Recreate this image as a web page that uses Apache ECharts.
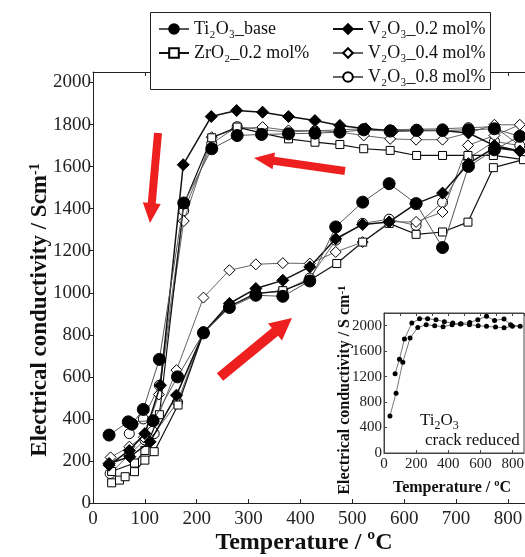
<!DOCTYPE html>
<html>
<head>
<meta charset="utf-8">
<script src="https://cdn.jsdelivr.net/npm/echarts@6/dist/echarts.min.js"></script>
<style>
  html, body { margin: 0; padding: 0; background: #fff; }
  #chart { width: 525px; height: 557px; }
</style>
</head>
<body>
<div id="chart"></div>
<script>
// each run is heating (up to ~820 ºC) followed by cooling, in measurement order
const tiTemp = [31, 68, 116, 163, 213, 263, 314, 366, 418, 468, 520, 571, 623, 674, 724, 774, 823, 774, 724, 674, 624, 573, 522, 476, 428, 377, 325, 278, 229, 175, 128, 97, 75]
const tiCond = [323, 386, 391, 600, 809, 930, 988, 983, 1056, 1313, 1431, 1519, 1424, 1215, 1601, 1680, 1744, 1780, 1775, 1772, 1772, 1769, 1775, 1764, 1759, 1756, 1753, 1748, 1685, 1427, 683, 445, 375]

const zrTemp = [36, 51, 62, 80, 100, 118, 164, 213, 263, 314, 366, 418, 470, 520, 571, 623, 674, 723, 772, 830, 772, 723, 674, 624, 573, 522, 476, 428, 377, 326, 278, 229, 175, 128, 100, 80, 36]
const zrCond = [96, 109, 125, 149, 204, 244, 466, 810, 935, 995, 1010, 1060, 1139, 1241, 1330, 1278, 1289, 1336, 1595, 1633, 1653, 1653, 1653, 1653, 1677, 1685, 1705, 1716, 1732, 1759, 1788, 1737, 1420, 420, 250, 190, 150]

const v2Temp = [31, 71, 110, 161, 213, 263, 314, 366, 418, 468, 520, 571, 623, 674, 724, 774, 823, 774, 724, 674, 627, 578, 526, 476, 428, 377, 327, 277, 228, 174, 130, 100, 70, 31]
const v2Cond = [188, 220, 291, 513, 809, 949, 1020, 1059, 1123, 1257, 1325, 1337, 1424, 1474, 1614, 1690, 1674, 1700, 1760, 1772, 1772, 1769, 1780, 1796, 1819, 1838, 1859, 1867, 1838, 1609, 560, 330, 250, 180]

const v4Temp = [34, 70, 115, 161, 213, 263, 314, 366, 418, 468, 520, 571, 623, 674, 723, 774, 823, 774, 724, 674, 623, 573, 522, 476, 428, 377, 327, 278, 229, 175, 127, 98]
const v4Cond = [217, 268, 347, 632, 977, 1107, 1135, 1141, 1139, 1194, 1241, 1337, 1337, 1384, 1701, 1748, 1799, 1799, 1760, 1728, 1728, 1732, 1748, 1764, 1772, 1772, 1788, 1780, 1740, 1341, 516, 312]

const v8Temp = [33, 70, 100, 118, 163, 213, 263, 314, 366, 418, 468, 520, 571, 623, 674, 724, 774, 823, 774, 724, 674, 624, 573, 522, 476, 428, 377, 327, 278, 229, 175, 128, 97, 70]
const v8Cond = [140, 230, 300, 330, 480, 815, 935, 1000, 1005, 1070, 1250, 1330, 1350, 1320, 1430, 1640, 1720, 1700, 1790, 1785, 1780, 1778, 1775, 1780, 1775, 1770, 1765, 1775, 1790, 1710, 1390, 560, 400, 330]

// inset: Ti2O3 crack reduced
const insetTemp = [37, 75, 117, 162, 210, 262, 315, 367, 423, 475, 531, 585, 637, 693, 746, 798, 846, 787, 746, 687, 637, 583, 533, 479, 427, 375, 323, 271, 221, 173, 127, 96, 69]
const insetCond = [583, 940, 1428, 1806, 1973, 2016, 2000, 1984, 2016, 2026, 2016, 2000, 1990, 1979, 1968, 1990, 1990, 2016, 2105, 2084, 2147, 2094, 2052, 2031, 2042, 2063, 2094, 2110, 2110, 2042, 1790, 1475, 1244]

const names = ['Ti₂O₃_base', 'ZrO₂_0.2 mol%', 'V₂O₃_0.2 mol%', 'V₂O₃_0.4 mol%', 'V₂O₃_0.8 mol%']

const serif = "'Liberation Serif', 'DejaVu Serif', serif"
const zip = (a, b) => a.map((v, i) => [v, b[i]])
const plain = v => String(v)

// red arrow outline from tail to tip
function arrow(x1, y1, x2, y2, w, hw, hl) {
  const L = Math.hypot(x2 - x1, y2 - y1)
  const ux = (x2 - x1) / L, uy = (y2 - y1) / L
  const px = -uy, py = ux
  const bx = x2 - ux * hl, by = y2 - uy * hl
  return [
    [x1 + px * w / 2, y1 + py * w / 2],
    [bx + px * w / 2, by + py * w / 2],
    [bx + px * hw / 2, by + py * hw / 2],
    [x2, y2],
    [bx - px * hw / 2, by - py * hw / 2],
    [bx - px * w / 2, by - py * w / 2],
    [x1 - px * w / 2, y1 - py * w / 2]
  ]
}

function mainSeries(name, data, symbol, size, fill, lineColor, lineWidth, z) {
  return {
    name: name,
    type: 'line',
    xAxisIndex: 0,
    yAxisIndex: 0,
    data: data,
    symbol: symbol,
    symbolSize: size,
    showAllSymbol: true,
    z: z,
    lineStyle: { color: lineColor, width: lineWidth },
    itemStyle: { color: fill, borderColor: '#000', borderWidth: 1 },
    emphasis: { disabled: true },
    animation: false
  }
}

const myChart = echarts.init(document.getElementById('chart'), null, { renderer: 'canvas' })

const axisLineStyle = { color: '#222', width: 1 }

myChart.setOption({
  backgroundColor: '#fff',
  animation: false,
  grid: [
    { left: 93, top: 72, right: 0, bottom: 54, outerBoundsMode: 'none' },
    { left: 384, top: 313, right: 1, bottom: 104, show: true, backgroundColor: '#fff', borderColor: '#444', borderWidth: 1, outerBoundsMode: 'none' }
  ],
  xAxis: [
    {
      gridIndex: 0, type: 'value', min: 0, max: 833, interval: 100, position: 'bottom',
      axisLine: { lineStyle: axisLineStyle },
      axisTick: { inside: true, length: 4, lineStyle: axisLineStyle },
      axisLabel: { fontFamily: serif, fontSize: 19, color: '#222', margin: 7, showMaxLabel: false, formatter: plain },
      splitLine: { show: false }
    },
    {
      gridIndex: 0, type: 'value', min: 0, max: 833, interval: 100, position: 'top',
      axisLine: { lineStyle: axisLineStyle },
      axisTick: { inside: true, length: 4, lineStyle: axisLineStyle },
      axisLabel: { show: false },
      splitLine: { show: false }
    },
    {
      gridIndex: 1, type: 'value', min: 0, max: 870, interval: 200, position: 'bottom',
      axisLine: { lineStyle: { color: '#444' } },
      axisTick: { inside: true, length: 3, lineStyle: { color: '#444' } },
      axisLabel: { fontFamily: serif, fontSize: 15, color: '#222', margin: 4, showMaxLabel: false, formatter: plain },
      splitLine: { show: false }
    },
    {
      gridIndex: 1, type: 'value', min: 0, max: 870, interval: 100, position: 'top',
      axisLine: { lineStyle: { color: '#444' } },
      axisTick: { inside: true, length: 3, lineStyle: { color: '#444' } },
      axisLabel: { show: false },
      splitLine: { show: false }
    }
  ],
  yAxis: [
    {
      gridIndex: 0, type: 'value', min: 0, max: 2050, interval: 200,
      axisLine: { show: true, lineStyle: axisLineStyle },
      axisTick: { show: true, inside: false, length: 4, lineStyle: axisLineStyle },
      axisLabel: { fontFamily: serif, fontSize: 19, color: '#222', margin: 2, showMaxLabel: false, formatter: plain },
      splitLine: { show: false }
    },
    {
      gridIndex: 1, type: 'value', min: 0, max: 2200, interval: 400,
      axisLine: { show: true, lineStyle: { color: '#444' } },
      axisTick: { show: true, inside: true, length: 3, lineStyle: { color: '#444' } },
      axisLabel: { fontFamily: serif, fontSize: 15, color: '#222', margin: 2, showMaxLabel: false, formatter: plain },
      splitLine: { show: false }
    }
  ],
  legend: [
    {
      data: [names[0], names[1]],
      orient: 'vertical', left: 153, top: 15, z: 20,
      itemWidth: 30, itemHeight: 12, itemGap: 6,
      textStyle: { fontFamily: serif, fontSize: 18, color: '#111', lineHeight: 18 },
      selectedMode: false
    },
    {
      data: [names[2], names[3], names[4]],
      orient: 'vertical', left: 327, top: 15, z: 20,
      itemWidth: 30, itemHeight: 12, itemGap: 6,
      textStyle: { fontFamily: serif, fontSize: 18, color: '#111', lineHeight: 18 },
      selectedMode: false
    }
  ],
  graphic: [
    { type: 'rect', z: 15, shape: { x: 150.5, y: 12.5, width: 340, height: 77 }, style: { fill: '#fff', stroke: '#222', lineWidth: 1 } },
    { type: 'polygon', z: 10, shape: { points: arrow(158, 133, 150, 223, 8, 18, 20) }, style: { fill: '#ee1f1f' } },
    { type: 'polygon', z: 10, shape: { points: arrow(345, 171, 254, 158, 8, 17, 20) }, style: { fill: '#ee1f1f' } },
    { type: 'polygon', z: 10, shape: { points: arrow(220, 377, 292, 318, 10, 22, 22) }, style: { fill: '#ee1f1f' } },
    {
      type: 'text', z: 10, x: 304, y: 543,
      style: { text: 'Temperature / ºC', fontFamily: serif, fontSize: 24, fontWeight: 'bold', fill: '#111', align: 'center', verticalAlign: 'middle' }
    },
    {
      type: 'text', z: 10, x: 40, y: 310, rotation: Math.PI / 2,
      style: {
        text: 'Electrical conductivity / Scm{sup|-1}', fontFamily: serif, fontSize: 23, fontWeight: 'bold', fill: '#111',
        align: 'center', verticalAlign: 'middle',
        rich: { sup: { fontFamily: serif, fontSize: 14, fontWeight: 'bold', fill: '#111', verticalAlign: 'top' } }
      }
    },
    {
      type: 'text', z: 10, x: 345, y: 390, rotation: Math.PI / 2,
      style: {
        text: 'Electrical conductivity / S cm{sup|-1}', fontFamily: serif, fontSize: 16, fontWeight: 'bold', fill: '#111',
        align: 'center', verticalAlign: 'middle',
        rich: { sup: { fontFamily: serif, fontSize: 11, fontWeight: 'bold', fill: '#111', verticalAlign: 'top' } }
      }
    },
    {
      type: 'text', z: 10, x: 452, y: 488,
      style: { text: 'Temperature / ºC', fontFamily: serif, fontSize: 16, fontWeight: 'bold', fill: '#111', align: 'center', verticalAlign: 'middle' }
    },
    {
      type: 'text', z: 10, x: 420, y: 421,
      style: { text: 'Ti{sub|2}O{sub|3}', fontFamily: serif, fontSize: 17, fill: '#111', align: 'left', verticalAlign: 'middle', lineHeight: 22,
        rich: { sub: { fontFamily: serif, fontSize: 12, fill: '#111', verticalAlign: 'bottom', lineHeight: 22 } } }
    },
    {
      type: 'text', z: 10, x: 425, y: 441,
      style: { text: 'crack reduced', fontFamily: serif, fontSize: 17, fill: '#111', align: 'left', verticalAlign: 'middle' }
    }
  ],
  series: [
    mainSeries(names[4], zip(v8Temp, v8Cond), 'circle', 10, '#fff', '#666', 1, 2),
    mainSeries(names[3], zip(v4Temp, v4Cond), 'diamond', 11, '#fff', '#666', 1, 3),
    mainSeries(names[1], zip(zrTemp, zrCond), 'rect', 8, '#fff', '#111', 1.2, 4),
    mainSeries(names[2], zip(v2Temp, v2Cond), 'diamond', 12, '#000', '#111', 1.5, 5),
    mainSeries(names[0], zip(tiTemp, tiCond), 'circle', 12, '#000', '#555', 1, 6),
    {
      name: 'inset',
      type: 'line',
      xAxisIndex: 2,
      yAxisIndex: 1,
      data: zip(insetTemp, insetCond),
      symbol: 'circle',
      symbolSize: 5,
      showAllSymbol: true,
      z: 7,
      lineStyle: { color: '#777', width: 1 },
      itemStyle: { color: '#000' },
      emphasis: { disabled: true },
      animation: false
    }
  ]
})
</script>
</body>
</html>
